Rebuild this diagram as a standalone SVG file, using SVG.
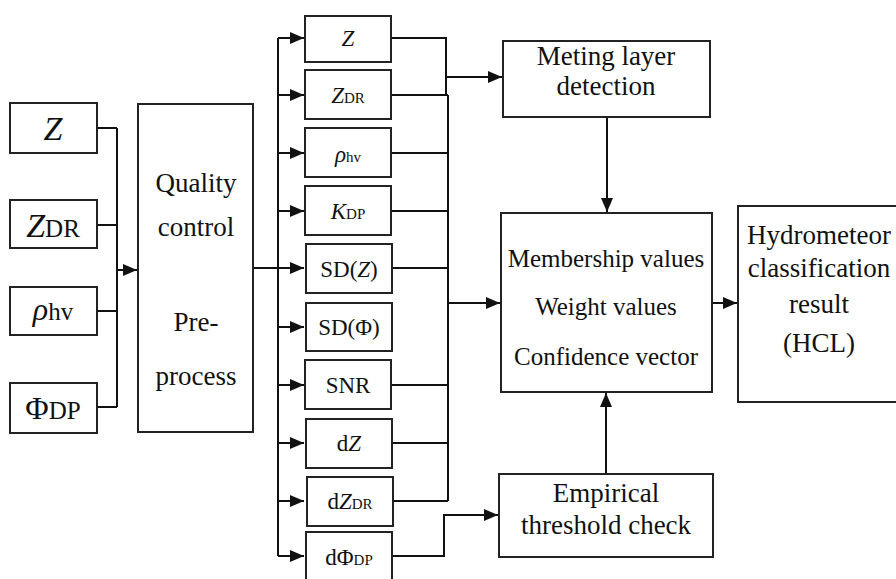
<svg xmlns="http://www.w3.org/2000/svg" width="896" height="579" viewBox="0 0 896 579">
<defs>
<marker id="arr" markerUnits="userSpaceOnUse" markerWidth="14" markerHeight="12" refX="14" refY="6" viewBox="0 0 14 12" orient="auto"><path d="M0,0 L14,6 L0,12 z" fill="#111"/></marker>
</defs>
<style>
.box{fill:#fff;stroke:#222;stroke-width:2}
.ln{fill:none;stroke:#111;stroke-width:2}
text{fill:#111;text-anchor:middle}
.i{font-style:italic}
.m{font-size:23px}
.s{font-size:15px}
.r{font-size:27px}
</style>
<g id="connectors">
<path class="ln" d="M97,128 H117 M97,225 H117 M97,311 H117 M97,407 H117 M117,128 V407"/>
<path class="ln" d="M117,270 H137" marker-end="url(#arr)"/>
<path class="ln" d="M253,268 H304" marker-end="url(#arr)"/>
<path class="ln" d="M278,38 V556"/>
<path class="ln" d="M278,38 H304" marker-end="url(#arr)"/>
<path class="ln" d="M278,95 H304" marker-end="url(#arr)"/>
<path class="ln" d="M278,153 H304" marker-end="url(#arr)"/>
<path class="ln" d="M278,211 H304" marker-end="url(#arr)"/>
<path class="ln" d="M278,327 H304" marker-end="url(#arr)"/>
<path class="ln" d="M278,385 H304" marker-end="url(#arr)"/>
<path class="ln" d="M278,443 H304" marker-end="url(#arr)"/>
<path class="ln" d="M278,501 H304" marker-end="url(#arr)"/>
<path class="ln" d="M278,556 H304" marker-end="url(#arr)"/>
<path class="ln" d="M391,38 H446 V95"/>
<path class="ln" d="M391,95 H448 M391,153 H448 M391,211 H448 M391,268 H448 M391,385 H448 M391,443 H448 M391,501 H448 M448,95 V501"/>
<path class="ln" d="M446,77 H502" marker-end="url(#arr)"/>
<path class="ln" d="M448,303 H500" marker-end="url(#arr)"/>
<path class="ln" d="M391,556 H444 V515 H498" marker-end="url(#arr)"/>
<path class="ln" d="M607,117 V212" marker-end="url(#arr)"/>
<path class="ln" d="M606,474 V393" marker-end="url(#arr)"/>
<path class="ln" d="M712,303 H737" marker-end="url(#arr)"/>
</g>
<g font-family="Liberation Serif, Times New Roman, Tinos, Noto Serif, DejaVu Serif, serif">
<g id="in-z"><rect class="box" x="10" y="103" width="87" height="50"/><text class="i" x="53" y="140" font-size="34">Z</text></g>
<g id="in-zdr"><rect class="box" x="10" y="200" width="87" height="48"/><text x="53" y="237"><tspan class="i" font-size="34">Z</tspan><tspan font-size="25">DR</tspan></text></g>
<g id="in-rho"><rect class="box" x="10" y="287" width="87" height="48"/><text x="53" y="320"><tspan class="i" font-size="32">ρ</tspan><tspan font-size="25">hv</tspan></text></g>
<g id="in-phi"><rect class="box" x="10" y="383" width="87" height="50"/><text x="53" y="419"><tspan font-size="32">Φ</tspan><tspan font-size="25">DP</tspan></text></g>
<g id="qc"><rect class="box" x="138" y="104" width="115" height="328"/>
<text class="r" x="196" y="192">Quality</text>
<text class="r" x="196" y="236">control</text>
<text class="r" x="196" y="331">Pre-</text>
<text class="r" x="196" y="385">process</text></g>
<g id="m-z"><rect class="box" x="305" y="16" width="86" height="46"/><text class="m i" x="348" y="46">Z</text></g>
<g id="m-zdr"><rect class="box" x="305" y="70" width="86" height="49"/><text x="348" y="103"><tspan class="m i">Z</tspan><tspan class="s">DR</tspan></text></g>
<g id="m-rho"><rect class="box" x="305" y="128" width="86" height="49"/><text x="348" y="162"><tspan class="m i">ρ</tspan><tspan class="s">hv</tspan></text></g>
<g id="m-kdp"><rect class="box" x="305" y="186" width="86" height="49"/><text x="348" y="219"><tspan class="m i">K</tspan><tspan class="s">DP</tspan></text></g>
<g id="m-sdz"><rect class="box" x="306" y="244" width="86" height="49"/><text class="m" x="349" y="277">SD(<tspan class="i">Z</tspan>)</text></g>
<g id="m-sdphi"><rect class="box" x="306" y="303" width="86" height="48"/><text class="m" x="349" y="335">SD(Φ)</text></g>
<g id="m-snr"><rect class="box" x="305" y="360" width="86" height="49"/><text class="m" x="348" y="393">SNR</text></g>
<g id="m-dz"><rect class="box" x="306" y="419" width="86" height="49"/><text class="m" x="349" y="451">d<tspan class="i">Z</tspan></text></g>
<g id="m-dzdr"><rect class="box" x="307" y="477" width="86" height="49"/><text x="350" y="509"><tspan class="m">d</tspan><tspan class="m i">Z</tspan><tspan class="s">DR</tspan></text></g>
<g id="m-dphi"><rect class="box" x="306" y="532" width="86" height="52"/><text x="349" y="565"><tspan class="m">dΦ</tspan><tspan class="s">DP</tspan></text></g>
<g id="meting"><rect class="box" x="503" y="41" width="207" height="76"/>
<text class="r" x="606" y="65">Meting layer</text>
<text class="r" x="606" y="95">detection</text></g>
<g id="membership"><rect class="box" x="501" y="213" width="211" height="179"/>
<text x="606" y="267" font-size="25">Membership values</text>
<text x="606" y="315" font-size="25">Weight values</text>
<text x="606" y="365" font-size="25">Confidence vector</text></g>
<g id="empirical"><rect class="box" x="499" y="474" width="214" height="83"/>
<text class="r" x="606" y="502">Empirical</text>
<text class="r" x="606" y="534">threshold check</text></g>
<g id="hcl"><rect class="box" x="738" y="206" width="170" height="196"/>
<text class="r" x="819" y="244">Hydrometeor</text>
<text class="r" x="819" y="277">classification</text>
<text class="r" x="819" y="313">result</text>
<text class="r" x="819" y="352">(HCL)</text></g>
</g>
</svg>
